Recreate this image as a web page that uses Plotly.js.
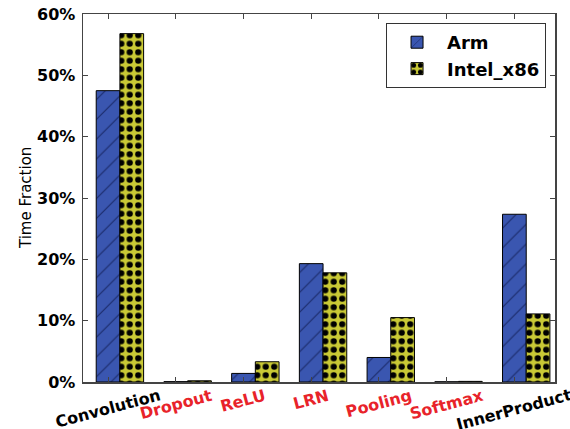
<!DOCTYPE html>
<html>
<head>
<meta charset="utf-8">
<script src="https://cdn.plot.ly/plotly-3.0.1.min.js"></script>
<style>html,body{margin:0;padding:0;background:#fff;}#chart{width:570px;height:429px;}</style>
</head>
<body>
<div id="chart"></div>
<script>
const categories = ["Convolution", "Dropout", "ReLU", "LRN", "Pooling", "Softmax", "InnerProduct"];
const labelColors = ["#000000", "#e8232a", "#e8232a", "#e8232a", "#e8232a", "#e8232a", "#000000"];
const armValues = [47.5, 0.05, 1.4, 19.3, 4.0, 0.03, 27.35];
const intelValues = [56.8, 0.2, 3.3, 17.8, 10.5, 0.1, 11.1];
const yTicks = [0, 10, 20, 30, 40, 50, 60];
const yTickLabels = ["0%", "10%", "20%", "30%", "40%", "50%", "60%"];

const W = 0.35;
const font = "DejaVu Sans, sans-serif";

const traces = [
  {
    type: "bar", name: "Arm", x: categories, y: armValues,
    width: W, offset: -W / 2,
    marker: {
      color: "#3a56b0",
      line: {color: "#000000", width: 1},
      pattern: {shape: "/", size: 14, solidity: 0.08, fgcolor: "#1a2a6a", bgcolor: "#3a56b0"}
    },
    hoverinfo: "skip"
  },
  {
    type: "bar", name: "Intel_x86", x: categories, y: intelValues,
    width: W, offset: W / 2,
    marker: {
      color: "#c9c935",
      line: {color: "#000000", width: 1},
      pattern: {shape: ".", size: 8.5, solidity: 0.42, fgcolor: "#000000", bgcolor: "#c9c935"}
    },
    hoverinfo: "skip"
  }
];

const annotations = categories.map((c, i) => ({
  x: c, xref: "x", y: 0, yref: "paper", yshift: -1,
  text: "<b>" + c + "</b>", showarrow: false, textangle: -15,
  xanchor: "center", yanchor: "top",
  font: {family: font, size: 16, color: labelColors[i]}
}));
annotations.push({
  x: 0, xref: "paper", xshift: -57, y: 0.5, yref: "paper",
  text: "Time Fraction", showarrow: false, textangle: -90,
  xanchor: "center", yanchor: "middle",
  font: {family: font, size: 15, color: "#000000"}
});

const layout = {
  width: 570, height: 429,
  margin: {l: 83, r: 15, t: 14, b: 47, pad: 0},
  paper_bgcolor: "#ffffff", plot_bgcolor: "#ffffff",
  showlegend: true,
  legend: {
    x: 0.981, y: 0.9755, xanchor: "right", yanchor: "top",
    bgcolor: "#ffffff", bordercolor: "#333333", borderwidth: 1,
    font: {family: font, size: 18, color: "#000000", weight: "bold"},
    itemwidth: 50, tracegroupgap: 6, traceorder: "normal"
  },
  xaxis: {
    type: "category", range: [-0.37, 6.6],
    showgrid: false, zeroline: false,
    showline: true, linecolor: "#444444", linewidth: 1.5, mirror: "ticks",
    ticks: "inside", ticklen: 5, tickcolor: "#444444",
    showticklabels: false
  },
  yaxis: {
    range: [0, 60], tickvals: yTicks, ticktext: yTickLabels,
    showgrid: false, zeroline: false,
    showline: true, linecolor: "#444444", linewidth: 1.5, mirror: "ticks",
    ticks: "inside", ticklen: 5, tickcolor: "#444444",
    ticklabelstandoff: 3,
    tickfont: {family: font, size: 16, color: "#000000", weight: "bold"}
  },
  annotations: annotations,
  bargap: 0
};

Plotly.newPlot("chart", traces, layout, {displayModeBar: false, staticPlot: true});
</script>
</body>
</html>
